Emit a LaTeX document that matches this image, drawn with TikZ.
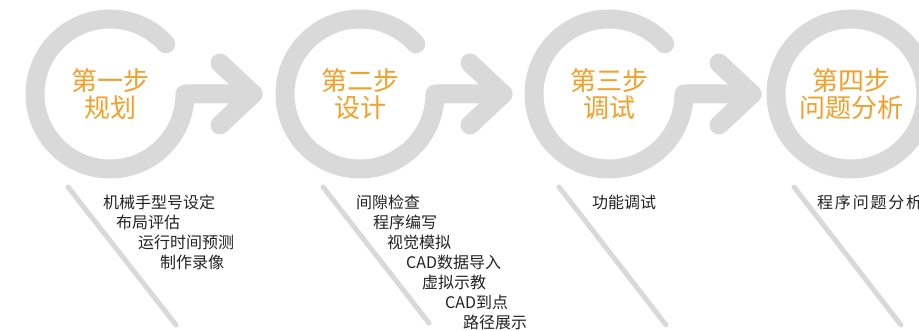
\documentclass[tikz,border=0pt]{standalone}
\usepackage{fontspec}
\setmainfont{Noto Sans CJK SC}
\usetikzlibrary{calc}
\definecolor{ringgray}{RGB}{217,217,217}
\definecolor{steporange}{RGB}{245,158,40}
\definecolor{itemtext}{RGB}{34,34,34}
\begin{document}
\begin{tikzpicture}[x=1pt,y=-1pt,
  ring/.style={draw=ringgray,line width=19pt,line cap=round,line join=round},
  slash/.style={draw=ringgray,line width=5pt,line cap=round},
  title/.style={text=steporange,font=\fontsize{26}{27}\selectfont,align=center,inner sep=0pt},
  item/.style={text=itemtext,font=\fontsize{16}{18}\selectfont,anchor=west,inner sep=0pt}]
\useasboundingbox (0,0) rectangle (919,331);
\clip (0,0) rectangle (919,331);
% circle centres
\coordinate (c1) at (110,94);
\coordinate (c2) at (360,94);
\coordinate (c3) at (609,94);
\coordinate (c4) at (851,94);
% open rings with arrows
\foreach \c/\t in {c1/tip1,c2/tip2,c3/tip3}{
  \draw[ring] ($(\c)+(-42:75)$) arc[start angle=-42,end angle=-360,radius=75] -- ++(68,0) coordinate (\t);
  \draw[ring] (\t) ++(-33,-31) -- (\t) -- ++(-33,31);
}
% closed ring
\draw[ring] (c4) circle[radius=75];
% titles
\node[title] (s1) at (c1) {第一步\\规划};
\node[title] (s2) at (c2) {第二步\\设计};
\node[title] (s3) at (c3) {第三步\\调试};
\node[title] (s4) at (c4) {第四步\\问题分析};
% slashes
\coordinate (l1a) at (68,187); \coordinate (l1b) at (176,325);
\coordinate (l2a) at (323,187); \coordinate (l2b) at (429,323);
\coordinate (l3a) at (559,187); \coordinate (l3b) at (666,325);
\coordinate (l4a) at (794,187); \coordinate (l4b) at (901,325);
\draw[slash] (l1a) -- (l1b);
\draw[slash] (l2a) -- (l2b);
\draw[slash] (l3a) -- (l3b);
\draw[slash] (l4a) -- (l4b);
% items step 1
\node[item] (a1) at (103,202) {机械手型号设定};
\node[item] (a2) at (116,222) {布局评估};
\node[item] (a3) at (138,242) {运行时间预测};
\node[item] (a4) at (160,262) {制作录像};
% items step 2
\node[item] (b1) at (356,202) {间隙检查};
\node[item] (b2) at (373,222) {程序编写};
\node[item] (b3) at (387,242) {视觉模拟};
\node[item] (b4) at (406,262) {CAD数据导入};
\node[item] (b5) at (422,282) {虚拟示教};
\node[item] (b6) at (445,302) {CAD到点};
\node[item] (b7) at (463,322) {路径展示};
% items step 3 and 4
\node[item] (d1) at (592,202) {功能调试};
\node[item] (e1) at (817,202) {程\kern1.8pt 序\kern1.8pt 问\kern1.8pt 题\kern1.8pt 分\kern1.8pt 析};
\end{tikzpicture}
\end{document}
